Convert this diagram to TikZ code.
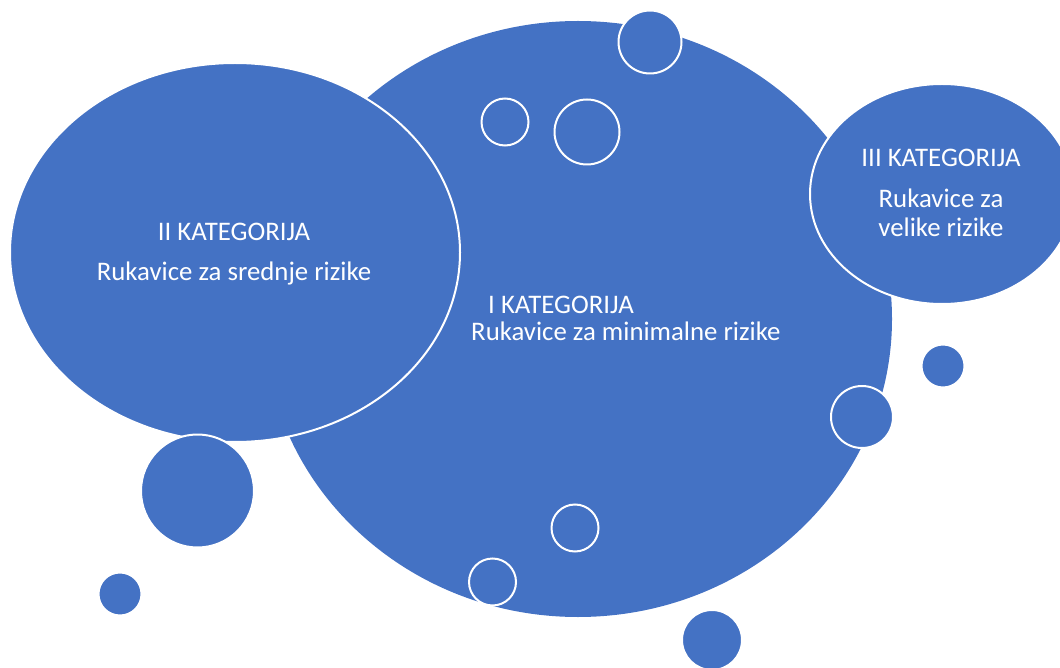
\documentclass[tikz,border=0pt]{standalone}
\usepackage{fontspec}
\setmainfont{Carlito}
\usetikzlibrary{shapes.geometric}
\definecolor{accentblue}{HTML}{4472C4}
\tikzset{
  blob/.style={ellipse, fill=accentblue, draw=white, line width=2pt, inner sep=0pt},
  dot/.style={circle, fill=accentblue, draw=white, line width=2pt, inner sep=0pt, minimum size=#1},
  lbl/.style={text=white, inner sep=0pt, font=\fontsize{26.8}{30}\selectfont}
}
\begin{document}
\begin{tikzpicture}[x=1pt,y=-1pt]
\useasboundingbox (0,0) rectangle (1060,668);
\clip (0,0) rectangle (1060,668);
% large central ellipse
\node[blob, draw=none, minimum width=628pt, minimum height=596pt] (big) at (578,319) {};
% left ellipse
\node[blob, minimum width=450pt, minimum height=379pt] (left) at (235,252.5) {};
% right ellipse
\node[blob, minimum width=264pt, minimum height=220pt] (right) at (942,194) {};
% small circles
\node[dot=63pt] (c1) at (650,42) {};
\node[dot=47pt] (c2) at (505,122) {};
\node[dot=65pt] (c3) at (587,132) {};
\node[dot=43pt] (c4) at (943,366) {};
\node[dot=62pt] (c5) at (862,417) {};
\node[dot=113pt] (c6) at (197.5,491) {};
\node[dot=47pt] (c7) at (575,528) {};
\node[dot=47pt] (c8) at (492.5,582) {};
\node[dot=43pt] (c9) at (120,594) {};
\node[dot=60pt] (c10) at (712,640) {};
% texts
\node[lbl, anchor=base] (t2a) at (234,241) {II KATEGORIJA};
\node[lbl, anchor=base] (t2b) at (234,280) {Rukavice za srednje rizike};
\node[lbl, anchor=base west] (t1a) at (488,313) {I KATEGORIJA};
\node[lbl, anchor=base west] (t1b) at (471,341) {Rukavice za minimalne rizike};
\node[lbl, anchor=base] (t3a) at (941,167) {III KATEGORIJA};
\node[lbl, anchor=base] (t3b) at (941,208) {Rukavice za};
\node[lbl, anchor=base] (t3c) at (941,237) {velike rizike};
\end{tikzpicture}
\end{document}
